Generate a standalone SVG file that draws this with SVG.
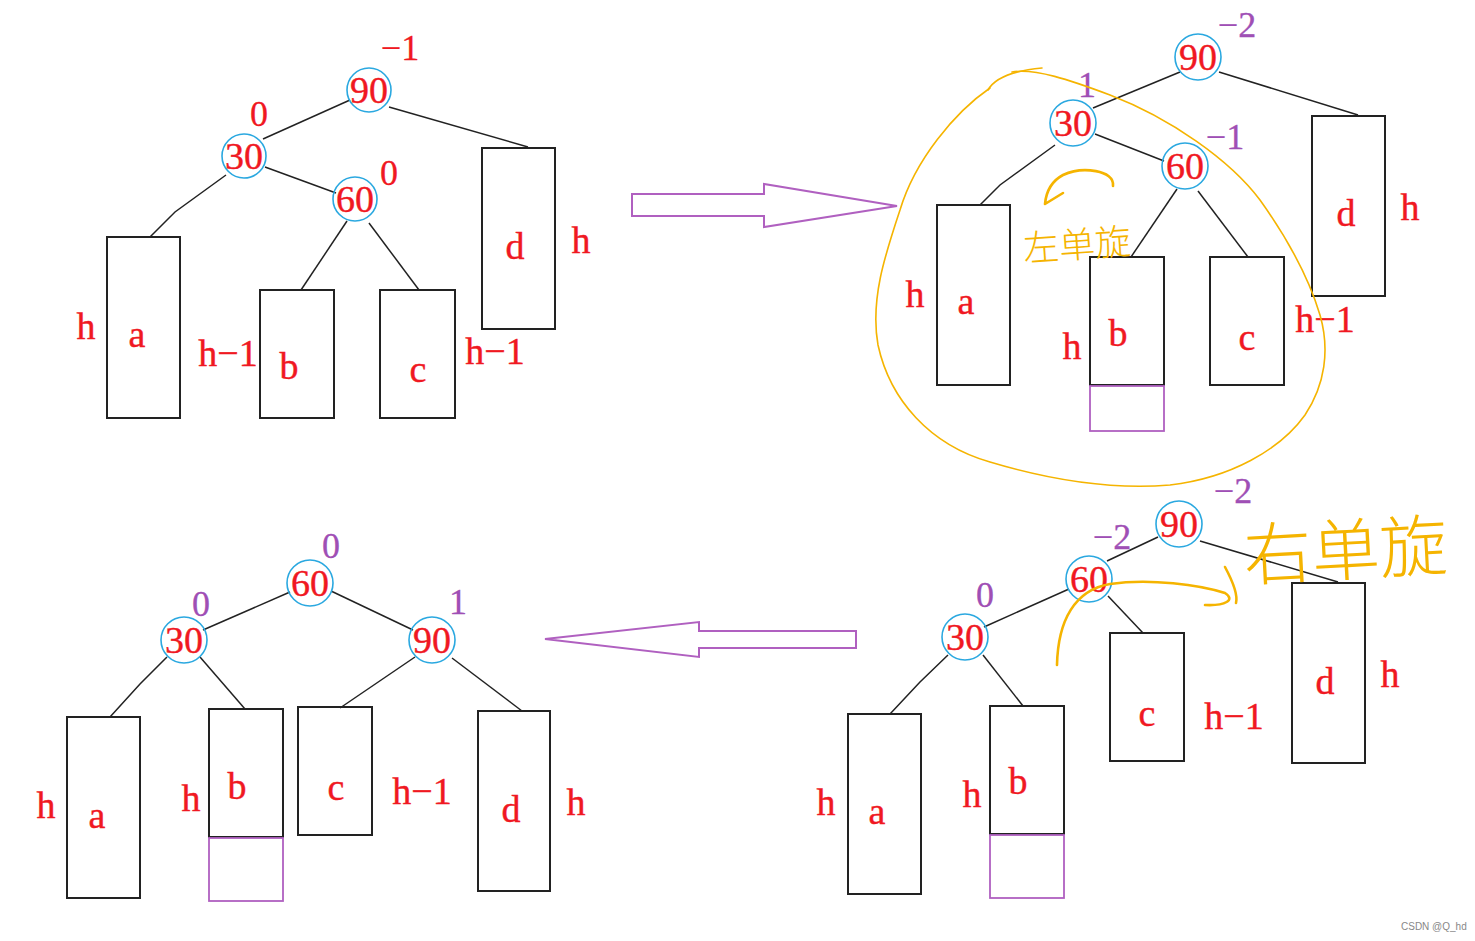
<svg xmlns="http://www.w3.org/2000/svg" width="1475" height="941" viewBox="0 0 1475 941">
<style>
.bg{fill:#ffffff}
.nc{fill:none;stroke:#2aa8e0;stroke-width:1.6}
.nt{font-family:"Liberation Serif","DejaVu Serif",serif;font-size:38px;fill:#f01822;stroke:#f01822;stroke-width:0.4;text-anchor:middle}
.lb{font-family:"Liberation Serif","DejaVu Serif",serif;font-size:38px;fill:#f01822;stroke:#f01822;stroke-width:0.4;text-anchor:middle}
.bfr{font-family:"Liberation Serif","DejaVu Serif",serif;font-size:36px;fill:#f01822;stroke:#f01822;stroke-width:0.3;text-anchor:middle}
.bfp{font-family:"Liberation Serif","DejaVu Serif",serif;font-size:36px;fill:#9f4fb5;stroke:#9f4fb5;stroke-width:0.3;text-anchor:middle}
.box{fill:none;stroke:#222;stroke-width:2}
.pbox{fill:none;stroke:#b060c0;stroke-width:1.8}
.edge{fill:none;stroke:#222;stroke-width:1.5}
.arrow{fill:none;stroke:#b060c0;stroke-width:2}
.hand{fill:none;stroke:#f5b400;stroke-width:1.6;stroke-linecap:round;stroke-linejoin:round}
.handw{fill:none;stroke:#f5b400;stroke-width:2.6;stroke-linecap:round;stroke-linejoin:round}
.ht{font-family:"Noto Sans CJK SC",sans-serif;fill:#f5b400;font-weight:300}
.wm{font-family:"Liberation Sans",sans-serif;font-size:10px;fill:#888}
</style>
<rect class="bg" x="0" y="0" width="1475" height="941"/>

<!-- ============ Connectors ============ -->
<g id="connectors">
  <!-- top-left -->
  <line class="edge" x1="350" y1="100" x2="263" y2="139"/>
  <line class="edge" x1="389" y1="107" x2="528" y2="147"/>
  <line class="edge" x1="265" y1="167" x2="336" y2="193"/>
  <polyline class="edge" points="226,175 175,212 150,237"/>
  <line class="edge" x1="347" y1="221" x2="301" y2="290"/>
  <line class="edge" x1="369" y1="223" x2="419" y2="290"/>
  <!-- top-right -->
  <line class="edge" x1="1180" y1="72" x2="1093" y2="108"/>
  <line class="edge" x1="1219" y1="72" x2="1358" y2="115"/>
  <line class="edge" x1="1095" y1="134" x2="1164" y2="161"/>
  <polyline class="edge" points="1055,145 1000,185 980,205"/>
  <line class="edge" x1="1177" y1="189" x2="1131" y2="257"/>
  <line class="edge" x1="1198" y1="191" x2="1248" y2="257"/>
  <!-- bottom-right -->
  <line class="edge" x1="1158" y1="537" x2="1107" y2="561"/>
  <line class="edge" x1="1200" y1="541" x2="1338" y2="582"/>
  <line class="edge" x1="1069" y1="589" x2="984" y2="627"/>
  <line class="edge" x1="1108" y1="596" x2="1143" y2="633"/>
  <polyline class="edge" points="948,655 920,682 890,714"/>
  <line class="edge" x1="983" y1="655" x2="1023" y2="706"/>
  <!-- bottom-left -->
  <line class="edge" x1="290" y1="592" x2="203" y2="630"/>
  <line class="edge" x1="331" y1="591" x2="413" y2="630"/>
  <polyline class="edge" points="167,657 140,684 110,717"/>
  <line class="edge" x1="200" y1="657" x2="245" y2="709"/>
  <line class="edge" x1="415" y1="657" x2="340" y2="708"/>
  <line class="edge" x1="452" y1="658" x2="522" y2="711"/>
</g>

<!-- ============ Big transition arrows ============ -->
<g id="arrow-right">
  <polygon class="arrow" points="632,194 764,194 764,184 897,206 764,227 764,216 632,216"/>
</g>
<g id="arrow-left">
  <polygon class="arrow" points="856,631 699,631 699,622 545,639 699,657 699,648 856,648"/>
</g>

<!-- ============ Top-left tree ============ -->
<g id="tl-90"><circle class="nc" cx="369" cy="90" r="22"/><text class="nt" x="369" y="103">90</text><text class="bfr" x="400" y="60">−1</text></g>
<g id="tl-30"><circle class="nc" cx="244" cy="156" r="22"/><text class="nt" x="244" y="169">30</text><text class="bfr" x="259" y="126">0</text></g>
<g id="tl-60"><circle class="nc" cx="355" cy="199" r="22"/><text class="nt" x="355" y="212">60</text><text class="bfr" x="389" y="185">0</text></g>
<g id="tl-a"><rect class="box" x="107" y="237" width="73" height="181"/><text class="lb" x="137" y="347">a</text><text class="lb" x="86" y="339">h</text></g>
<g id="tl-b"><rect class="box" x="260" y="290" width="74" height="128"/><text class="lb" x="289" y="379">b</text><text class="lb" x="228" y="366">h−1</text></g>
<g id="tl-c"><rect class="box" x="380" y="290" width="75" height="128"/><text class="lb" x="418" y="382">c</text><text class="lb" x="495" y="364">h−1</text></g>
<g id="tl-d"><rect class="box" x="482" y="148" width="73" height="181"/><text class="lb" x="515" y="259">d</text><text class="lb" x="581" y="253">h</text></g>

<!-- ============ Top-right tree ============ -->
<g id="tr-90"><circle class="nc" cx="1198" cy="57" r="23"/><text class="nt" x="1198" y="70">90</text><text class="bfp" x="1237" y="37">−2</text></g>
<g id="tr-30"><circle class="nc" cx="1073" cy="123" r="23"/><text class="nt" x="1073" y="136">30</text><text class="bfp" x="1087" y="97">1</text></g>
<g id="tr-60"><circle class="nc" cx="1185" cy="166" r="23"/><text class="nt" x="1185" y="179">60</text><text class="bfp" x="1225" y="149">−1</text></g>
<g id="tr-a"><rect class="box" x="937" y="205" width="73" height="180"/><text class="lb" x="966" y="314">a</text><text class="lb" x="915" y="307">h</text></g>
<g id="tr-b"><rect class="box" x="1090" y="257" width="74" height="128"/><rect class="pbox" x="1090" y="386" width="74" height="45"/><text class="lb" x="1118" y="346">b</text><text class="lb" x="1072" y="359">h</text></g>
<g id="tr-c"><rect class="box" x="1210" y="257" width="74" height="128"/><text class="lb" x="1247" y="350">c</text><text class="lb" x="1325" y="332">h−1</text></g>
<g id="tr-d"><rect class="box" x="1312" y="116" width="73" height="180"/><text class="lb" x="1346" y="226">d</text><text class="lb" x="1410" y="220">h</text></g>
<g id="tr-annot">
  <path class="hand" d="M 990,88 C 955,112 915,160 900,210 C 885,255 870,300 878,345 C 890,400 930,445 990,462 C 1050,480 1110,490 1170,485 C 1230,478 1280,450 1305,415 C 1325,385 1330,350 1320,315 C 1308,275 1285,235 1260,200 C 1230,160 1170,118 1110,95 C 1070,80 1035,68 1012,72"/>
  <path class="hand" d="M 988,90 Q 998,72 1042,68"/>
  <path class="handw" d="M 1113,186 C 1115,170 1082,166 1063,175 C 1050,182 1046,193 1045,204 L 1063,193"/>
  <text class="ht" x="1023" y="258" font-size="36" transform="rotate(-4 1075 245)">左单旋</text>
</g>

<!-- ============ Bottom-right tree ============ -->
<g id="br-90"><circle class="nc" cx="1179" cy="524" r="23"/><text class="nt" x="1179" y="537">90</text><text class="bfp" x="1233" y="503">−2</text></g>
<g id="br-60"><circle class="nc" cx="1089" cy="579" r="23"/><text class="nt" x="1089" y="592">60</text><text class="bfp" x="1112" y="549">−2</text></g>
<g id="br-30"><circle class="nc" cx="965" cy="637" r="23"/><text class="nt" x="965" y="650">30</text><text class="bfp" x="985" y="607">0</text></g>
<g id="br-a"><rect class="box" x="848" y="714" width="73" height="180"/><text class="lb" x="877" y="824">a</text><text class="lb" x="826" y="815">h</text></g>
<g id="br-b"><rect class="box" x="990" y="706" width="74" height="128"/><rect class="pbox" x="990" y="835" width="74" height="63"/><text class="lb" x="1018" y="794">b</text><text class="lb" x="972" y="807">h</text></g>
<g id="br-c"><rect class="box" x="1110" y="633" width="74" height="128"/><text class="lb" x="1147" y="726">c</text><text class="lb" x="1234" y="729">h−1</text></g>
<g id="br-d"><rect class="box" x="1292" y="583" width="73" height="180"/><text class="lb" x="1325" y="694">d</text><text class="lb" x="1390" y="687">h</text></g>
<g id="br-annot">
  <path class="handw" d="M 1057,665 C 1058,620 1075,590 1110,584 C 1150,578 1200,585 1225,593 C 1236,600 1225,606 1205,605"/>
  <path class="handw" d="M 1225,567 C 1232,580 1238,595 1236,603"/>
  <text class="ht" x="1243" y="575" font-size="68" transform="rotate(-3 1345 540)">右单旋</text>
</g>

<!-- ============ Bottom-left tree ============ -->
<g id="bl-60"><circle class="nc" cx="310" cy="583" r="23"/><text class="nt" x="310" y="596">60</text><text class="bfp" x="331" y="558">0</text></g>
<g id="bl-30"><circle class="nc" cx="184" cy="640" r="23"/><text class="nt" x="184" y="653">30</text><text class="bfp" x="201" y="616">0</text></g>
<g id="bl-90"><circle class="nc" cx="432" cy="640" r="23"/><text class="nt" x="432" y="653">90</text><text class="bfp" x="458" y="614">1</text></g>
<g id="bl-a"><rect class="box" x="67" y="717" width="73" height="181"/><text class="lb" x="97" y="828">a</text><text class="lb" x="46" y="818">h</text></g>
<g id="bl-b"><rect class="box" x="209" y="709" width="74" height="128"/><rect class="pbox" x="209" y="838" width="74" height="63"/><text class="lb" x="237" y="799">b</text><text class="lb" x="191" y="811">h</text></g>
<g id="bl-c"><rect class="box" x="298" y="707" width="74" height="128"/><text class="lb" x="336" y="800">c</text><text class="lb" x="422" y="804">h−1</text></g>
<g id="bl-d"><rect class="box" x="478" y="711" width="72" height="180"/><text class="lb" x="511" y="822">d</text><text class="lb" x="576" y="815">h</text></g>

<text class="wm" x="1401" y="930">CSDN @Q_hd</text>
</svg>
